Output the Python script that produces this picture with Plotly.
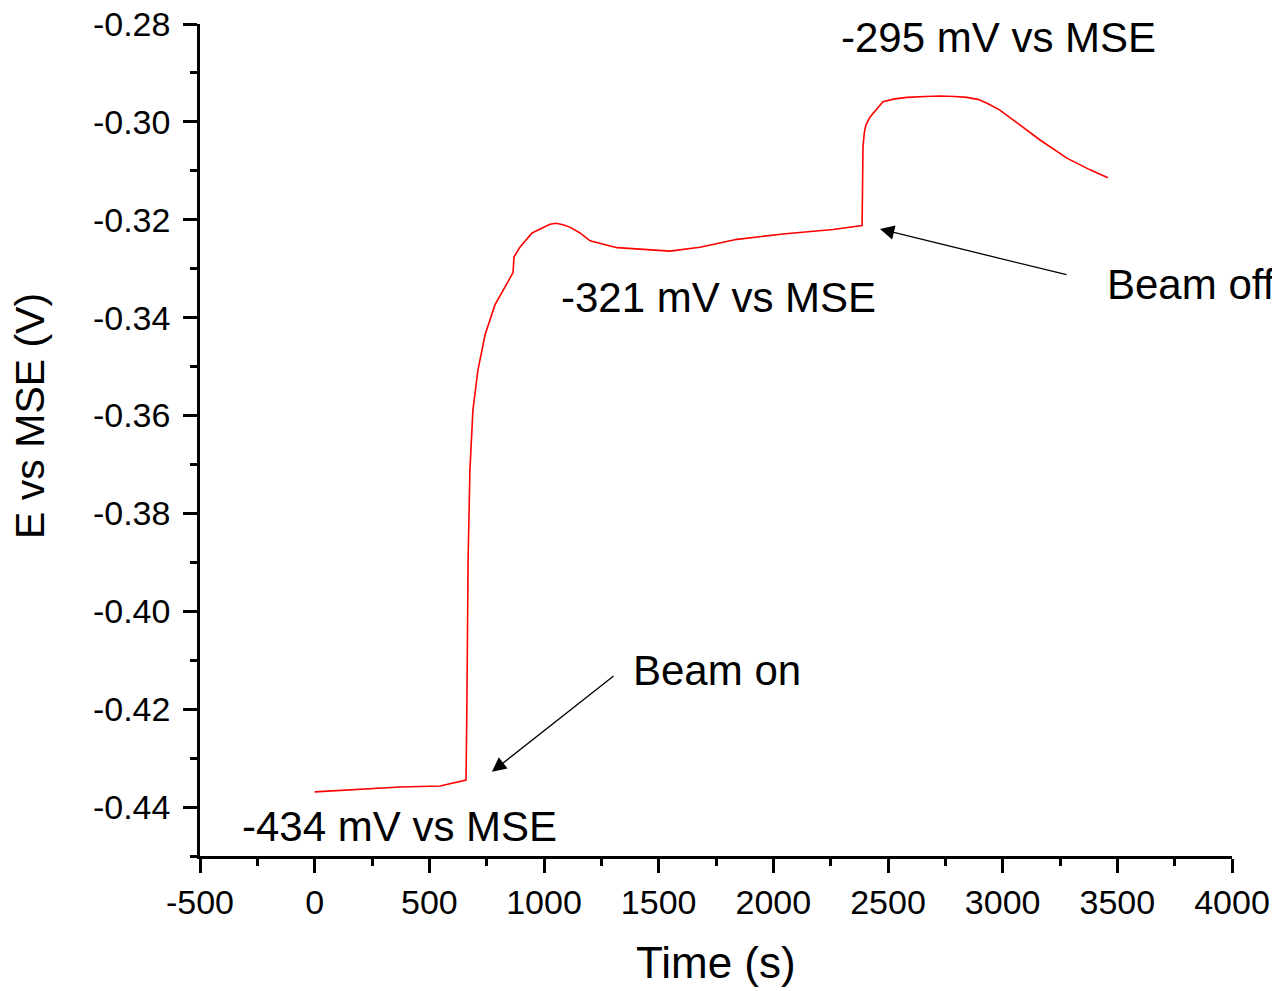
import plotly.graph_objects as go

# Data (time in s, potential in V vs MSE)
time_s = [0, 200, 372, 547, 660, 664, 669, 677, 690, 712, 743, 786, 830, 865, 869,
          895, 948, 1004, 1026, 1052, 1083, 1113, 1157, 1201, 1318, 1419, 1549, 1680,
          1842, 2042, 2260, 2387, 2391, 2397, 2404, 2422, 2478, 2530, 2583, 2661,
          2727, 2792, 2844, 2892, 2932, 2988, 3045, 3163, 3280, 3381, 3459]
potential_v = [-0.4369, -0.4363, -0.4359, -0.4357, -0.4345, -0.4181, -0.3895, -0.3711,
               -0.3589, -0.3507, -0.3435, -0.3374, -0.3337, -0.3308, -0.3276, -0.3256,
               -0.3227, -0.3213, -0.3209, -0.3207, -0.3210, -0.3215, -0.3227, -0.3243,
               -0.3257, -0.3260, -0.3264, -0.3256, -0.3240, -0.3229, -0.3220, -0.3212,
               -0.3051, -0.3021, -0.3006, -0.2990, -0.2959, -0.2953, -0.2950, -0.2948,
               -0.2947, -0.2948, -0.2950, -0.2954, -0.2962, -0.2976, -0.2996, -0.3037,
               -0.3074, -0.3098, -0.3114]

x_tickvals = [-500, 0, 500, 1000, 1500, 2000, 2500, 3000, 3500, 4000]
x_ticktext = ["-500", "0", "500", "1000", "1500", "2000", "2500", "3000", "3500", "4000"]
y_tickvals = [-0.44, -0.42, -0.40, -0.38, -0.36, -0.34, -0.32, -0.30, -0.28]
y_ticktext = ["-0.44", "-0.42", "-0.40", "-0.38", "-0.36", "-0.34", "-0.32", "-0.30", "-0.28"]

label_texts = ["-434 mV vs MSE", "-321 mV vs MSE", "-295 mV vs MSE", "Beam on", "Beam off"]
label_x = [368, 1763, 2980, 1754, 3821]
label_y = [-0.4439, -0.3358, -0.2827, -0.4120, -0.3333]

FONT = "Arial, Liberation Sans, sans-serif"

fig = go.Figure()
fig.add_trace(go.Scatter(x=time_s, y=potential_v, mode="lines",
                         line=dict(color="#ff0000", width=1.6), showlegend=False))

for t, lx, ly in zip(label_texts, label_x, label_y):
    fig.add_annotation(x=lx, y=ly, text=t, showarrow=False, xref="x", yref="y",
                       xanchor="center", yanchor="middle",
                       font=dict(family=FONT, size=42, color="black"))

# Arrows
fig.add_annotation(x=773, y=-0.4328, ax=1310, ay=-0.4130, xref="x", yref="y",
                   axref="x", ayref="y", text="", showarrow=True, arrowhead=2,
                   arrowsize=2.2, arrowwidth=1.3, arrowcolor="black")
fig.add_annotation(x=2465, y=-0.3219, ax=3285, ay=-0.3313, xref="x", yref="y",
                   axref="x", ayref="y", text="", showarrow=True, arrowhead=2,
                   arrowsize=2.2, arrowwidth=1.3, arrowcolor="black")

# Axis titles
fig.add_annotation(x=-0.1647, y=0.529, xref="paper", yref="paper", text="E vs MSE (V)",
                   textangle=-90, showarrow=False, xanchor="center", yanchor="middle",
                   font=dict(family=FONT, size=41, color="black"))
fig.add_annotation(x=0.5, y=-0.1286, xref="paper", yref="paper", text="Time (s)",
                   showarrow=False, xanchor="center", yanchor="middle",
                   font=dict(family=FONT, size=44, color="black"))

axis_common = dict(showline=True, linecolor="black", linewidth=2.5, ticks="outside",
                   ticklen=14, tickwidth=2.5, tickcolor="black", showgrid=False,
                   zeroline=False, mirror=False, automargin=False,
                   ticklabeloverflow="allow",
                   tickfont=dict(family=FONT, size=34, color="black"))

fig.update_xaxes(range=[-500, 4000], tickmode="array", tickvals=x_tickvals,
                 ticktext=x_ticktext,
                 minor=dict(ticks="outside", ticklen=7, tickwidth=2.5, tickcolor="black",
                            dtick=250, tick0=-500, showgrid=False),
                 **axis_common)
fig.update_yaxes(range=[-0.45, -0.28], tickmode="array", tickvals=y_tickvals,
                 ticktext=y_ticktext, ticklabelstandoff=6,
                 minor=dict(ticks="outside", ticklen=7, tickwidth=2.5, tickcolor="black",
                            dtick=0.01, tick0=-0.45, showgrid=False),
                 **axis_common)

# The page adds an 8 px body margin, so the figure is sized to fit the 1280x991 window
fig.update_layout(width=1272, height=983, plot_bgcolor="white", paper_bgcolor="white",
                  margin=dict(l=192, r=48, t=16, b=135, pad=0, autoexpand=False),
                  font=dict(family=FONT, color="black"))

fig.write_html("out.html")
